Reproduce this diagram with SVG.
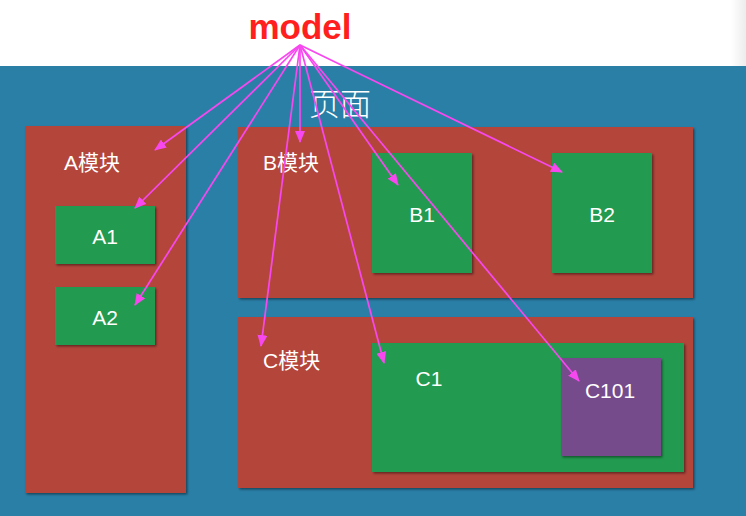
<svg xmlns="http://www.w3.org/2000/svg" width="746" height="516" viewBox="0 0 746 516">
<defs>
<style>
.mod{fill:#b4443a;filter:url(#sh)}
.sub{fill:#229a50;filter:url(#sh)}
.pur{fill:#744b8c;filter:url(#sh)}
.lbl{fill:#ffffff;font-family:"Liberation Sans","Noto Sans CJK SC",sans-serif;font-size:21px}
.ctr{text-anchor:middle}
.conn line{stroke:#f748ef;stroke-width:1.7;marker-end:url(#ah)}
</style>
<filter id="sh" x="-5%" y="-5%" width="115%" height="115%">
<feDropShadow dx="1.5" dy="1.5" stdDeviation="1" flood-color="#000" flood-opacity="0.45"/>
</filter>
<linearGradient id="edge" x1="0" x2="1" y1="0" y2="0">
<stop offset="0" stop-color="#ffffff"/>
<stop offset="0.98" stop-color="#ffffff"/>
<stop offset="1" stop-color="#ececec"/>
</linearGradient>
<marker id="ah" viewBox="0 0 12 10" refX="11" refY="5" markerWidth="12" markerHeight="10" markerUnits="userSpaceOnUse" orient="auto">
<path d="M0,0 L12,5 L0,10 z" fill="#f748ef"/>
</marker>
</defs>
<rect x="0" y="0" width="746" height="66" fill="url(#edge)"/>
<rect x="0" y="66" width="746" height="450" fill="#2a7fa7"/>
<text x="300" y="39" fill="#ff1f1f" font-family="Liberation Sans, Arial, sans-serif" font-weight="bold" font-size="35" text-anchor="middle">model</text>
<text x="340" y="115" fill="#ffffff" font-family="Noto Sans CJK SC, sans-serif" font-weight="300" font-size="31" text-anchor="middle">页面</text>

<g id="moduleA">
<rect class="mod" x="25" y="126" width="161" height="367"/>
<text class="lbl" x="64" y="170">A模块</text>
</g>
<g id="A1">
<rect class="sub" x="55" y="206" width="100" height="58"/>
<text class="lbl ctr" x="105" y="244">A1</text>
</g>
<g id="A2">
<rect class="sub" x="55" y="287" width="100" height="58"/>
<text class="lbl ctr" x="105" y="325">A2</text>
</g>

<g id="moduleB">
<rect class="mod" x="238" y="127" width="455" height="171"/>
<text class="lbl" x="263" y="170">B模块</text>
</g>
<g id="B1">
<rect class="sub" x="372" y="153" width="100" height="120"/>
<text class="lbl ctr" x="422" y="222">B1</text>
</g>
<g id="B2">
<rect class="sub" x="552" y="153" width="100" height="120"/>
<text class="lbl ctr" x="602" y="222">B2</text>
</g>

<g id="moduleC">
<rect class="mod" x="238" y="317" width="455" height="171"/>
<text class="lbl" x="263" y="368">C模块</text>
</g>
<g id="C1">
<rect class="sub" x="372" y="343" width="312" height="129"/>
<text class="lbl ctr" x="429" y="386">C1</text>
</g>
<g id="C101">
<rect class="pur" x="561" y="358" width="100" height="98"/>
<text class="lbl ctr" x="610" y="398">C101</text>
</g>

<g id="connectors" class="conn">
<line x1="300" y1="45" x2="155" y2="150"/>
<line x1="300" y1="45" x2="135" y2="208"/>
<line x1="300" y1="45" x2="135" y2="305"/>
<line x1="300" y1="45" x2="300" y2="142"/>
<line x1="300" y1="45" x2="398" y2="185"/>
<line x1="300" y1="45" x2="562" y2="172"/>
<line x1="300" y1="45" x2="261" y2="346"/>
<line x1="300" y1="45" x2="384" y2="363"/>
<line x1="300" y1="45" x2="579" y2="381"/>
</g>
</svg>
